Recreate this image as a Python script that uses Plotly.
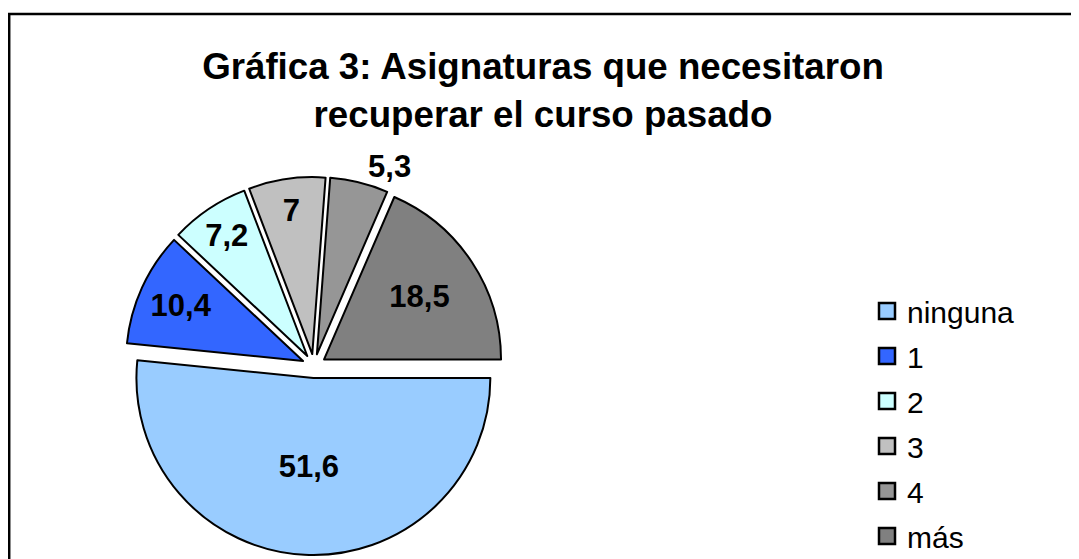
import plotly.graph_objects as go

categories = ["ninguna", "1", "2", "3", "4", "más"]
values = [51.6, 10.4, 7.2, 7, 5.3, 18.5]
colors = ["#99CCFF", "#3366FF", "#CCFFFF", "#C0C0C0", "#969696", "#808080"]
text_positions = ["inside", "inside", "inside", "inside", "outside", "inside"]

# the page body adds an 8px margin, so the figure is sized to fit the window
W, H = 1071, 551
FONT = "Liberation Sans, Arial, sans-serif"

fig = go.Figure()

fig.add_trace(go.Pie(
    labels=categories,
    values=values,
    sort=False,
    direction="clockwise",
    rotation=90,
    pull=[0.068] * len(values),
    marker=dict(colors=colors, line=dict(color="black", width=2)),
    textinfo="value",
    textposition=text_positions,
    insidetextorientation="horizontal",
    textfont=dict(family=FONT, size=31, color="black", weight="bold"),
    showlegend=False,
    hoverinfo="label+value",
    domain=dict(x=[117 / W, 495 / W], y=[1 - 547 / H, 1 - 169 / H]),
))

# legend entries (one per category)
for i, (cat, col) in enumerate(zip(categories, colors)):
    fig.add_trace(go.Scatter(
        x=[None], y=[None], mode="markers", name=cat,
        legendgroup=f"g{i}",
        marker=dict(symbol="square", size=16, color=col,
                    line=dict(color="black", width=2.5)),
    ))

fig.update_layout(
    width=W, height=H,
    margin=dict(l=0, r=0, t=0, b=0, autoexpand=False),
    paper_bgcolor="white",
    plot_bgcolor="white",
    separators=", ",
    title=dict(
        text="Gráfica 3: Asignaturas que necesitaron<br>recuperar el curso pasado",
        font=dict(family=FONT, size=36.7, color="black", weight="bold"),
        x=535 / W, xanchor="center",
        y=1 - 71 / H, yanchor="top",
    ),
    xaxis=dict(visible=False),
    yaxis=dict(visible=False),
    legend=dict(
        x=859 / W, xanchor="left",
        y=1 - 277 / H, yanchor="top",
        traceorder="grouped", tracegroupgap=3,
        font=dict(family=FONT, size=30, color="black"),
        bgcolor="rgba(0,0,0,0)",
        itemclick=False, itemdoubleclick=False,
    ),
    shapes=[dict(
        type="rect", xref="paper", yref="paper",
        x0=1.2 / W, x1=1.05, y0=-0.05, y1=1 - 6 / H,
        line=dict(color="black", width=2.5),
        fillcolor="rgba(0,0,0,0)",
        layer="below",
    )],
)

fig.write_html("out.html")
